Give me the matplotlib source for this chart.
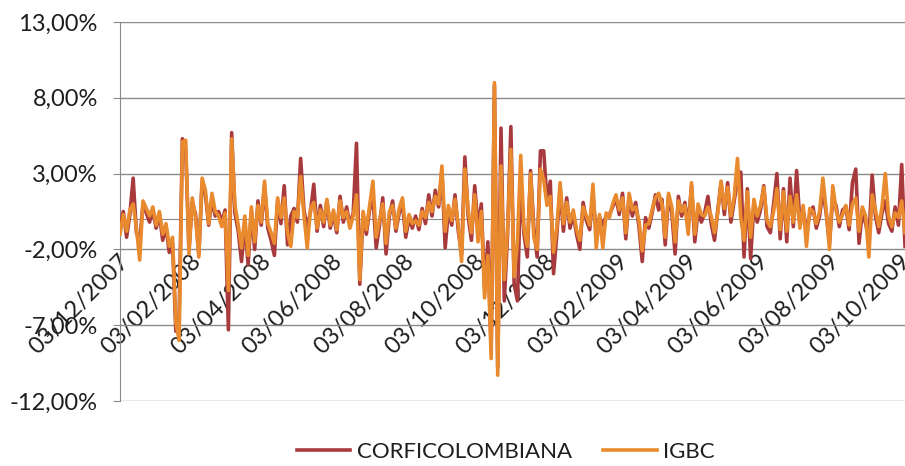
import numpy as np
import pandas as pd
import matplotlib
matplotlib.use("Agg")
import matplotlib.pyplot as plt
from matplotlib.transforms import ScaledTranslation

# daily returns (%), roughly every other trading day
corficolombiana = [
    -0.5, 0.5, -1.2, 0.3, 2.7, -0.9, -1.5, 1.0, 0.4, -0.2,
    0.6, -0.6, 0.3, -1.4, -0.5, -2.2, -1.6, -7.4, -6.5, 5.3,
    4.6, -2.0, 1.1, 0.3, -2.3, 2.4, 1.6, -0.4, 1.3, 0.2,
    0.5, -0.2, 0.6, -7.3, 5.7, 0.4, -0.8, -2.8, -0.3, -3.0,
    0.5, -2.0, 1.2, -0.4, 2.2, -0.6, -1.4, -2.4, 1.2, -0.3,
    2.2, -1.7, 0.2, 0.7, -0.2, 4.0, 0.6, -0.6, 0.5, 2.3,
    -0.8, 0.9, -0.5, 1.2, -0.6, 0.3, -0.9, 1.5, -0.2, 0.8,
    -0.4, 0.4, 5.0, -4.3, 0.3, -1.0, 0.6, 1.5, -1.9, -0.4,
    1.4, -2.3, 0.2, 1.2, -0.8, 0.4, 1.0, -1.2, 0.1, -0.6,
    0.2, -0.7, 0.7, -0.3, 1.6, 0.2, 1.9, 0.8, 3.2, -1.9,
    0.6, -0.4, 1.6, -0.8, -2.3, 4.1, 0.2, -1.4, 2.2, -0.6,
    1.0, -4.6, -1.5, -8.6, 8.8, -9.8, 6.0, -5.4, -1.0, 6.1,
    -4.3, -5.4, 2.6, -1.0, -2.5, 3.2, -0.6, -2.5, 4.5, 4.5,
    1.2, 2.5, -3.6, -1.0, 2.0, -0.8, 1.4, -0.6, 0.3, -1.0,
    -2.0, 1.1, -0.1, -0.7, 1.6, -1.0, 0.1, -0.4, 0.2, 0.3,
    0.8, 1.4, 0.3, 1.7, -1.3, 1.5, 0.2, 1.1, -0.5, -2.8,
    0.1, -0.6, 0.4, 1.6, 0.6, 1.3, -1.7, 1.5, 0.4, -2.3,
    1.5, 0.2, 1.1, -0.5, 2.2, -1.5, 0.6, -0.2, 0.4, 1.5,
    -0.3, -1.4, 0.6, 2.4, 0.3, 2.4, -0.2, 1.2, 2.6, 3.1,
    -2.5, 2.0, -2.6, 1.0, -0.2, 0.6, 2.2, -0.5, -0.9, 1.0,
    3.0, -1.3, 2.0, -1.5, 2.7, -0.5, 3.2, -0.2, 0.6, -0.8,
    0.3, 0.8, -0.6, 0.2, 1.9, 0.4, -1.6, 1.4, 0.9, -0.5,
    0.6, 0.8, -0.7, 2.4, 3.3, -1.6, 0.5, -0.3, -1.3, 2.9,
    0.2, -0.9, 0.4, 1.2, -0.3, -0.8, 0.8, -0.4, 3.6, -1.8,
]

igbc = [
    -1.0, 0.3, -0.8, 0.6, 1.0, -0.6, -2.7, 1.2, 0.7, 0.2,
    0.8, -0.4, 0.5, -1.0, -0.3, -1.8, -1.2, -6.8, -8.0, 5.1,
    5.2, -2.3, 1.4, 0.1, -2.5, 2.7, 1.9, -0.3, 1.7, 0.5,
    0.2, -0.5, 0.4, -4.7, 5.3, 0.9, -0.4, -1.9, 0.2, -2.4,
    0.8, -1.5, 0.9, -0.2, 2.5, -0.3, -0.9, -1.6, 1.4, 0.1,
    1.4, -0.9, -1.8, 0.5, 0.1, 2.8, 0.3, -1.9, 0.7, 1.1,
    -0.6, 0.6, -0.2, 1.3, -0.4, 0.6, -0.7, 1.2, 0.1, 0.5,
    -0.6, 0.2, 1.6, -4.0, 0.5, -0.7, 0.9, 2.5, -1.2, -0.1,
    1.0, -1.6, 0.5, 0.9, -0.6, 0.7, 1.4, -0.8, 0.3, -0.3,
    -0.1, -0.4, 0.5, 0.1, 1.1, 0.5, 1.5, 1.0, 3.5, -0.8,
    0.9, -0.1, 1.3, -0.4, -2.8, 3.3, 0.6, -0.9, 1.6, -1.5,
    0.5, -5.2, -2.4, -9.2, 9.0, -10.3, 3.5, -4.0, -0.6, 4.6,
    -3.8, -1.5, 4.2, -0.6, -1.8, 3.0, -1.2, -2.0, 3.3, 2.6,
    0.9, 1.5, -2.2, -0.5, 2.4, -0.3, 1.1, -0.2, 0.6, -0.7,
    -1.4, 0.8, 0.2, -0.4, 2.3, -1.9, 0.3, -1.9, 0.4, 0.1,
    1.0, 1.6, 0.6, 1.4, -0.9, 1.7, 0.6, 0.8, -0.1, -2.1,
    -0.4, -0.3, 0.6, 1.4, 1.7, 1.0, -1.2, 1.7, 0.8, -1.5,
    1.2, 0.5, 0.9, -1.0, 2.4, -1.0, 1.0, 0.3, 0.2, 0.8,
    0.2, -0.9, 0.4, 2.5, 0.7, 2.1, 0.2, 1.5, 4.0, 0.1,
    -1.4, 1.8, -1.2, 1.3, 0.2, 0.9, 2.1, -0.1, -0.5, 0.5,
    2.0, -0.7, 1.8, -0.8, 1.5, -0.2, 1.6, -0.6, 0.9, -1.8,
    0.7, 0.5, -0.3, 0.5, 2.7, 0.6, -2.0, 2.2, 0.6, -0.2,
    0.3, 0.9, -0.4, 1.0, 1.4, -0.8, 0.8, 0.2, -2.5, 1.6,
    0.6, -0.5, 0.8, 3.0, 0.2, -0.5, 0.4, 0.1, 1.2, -0.9,
]

start_date = "2007-12-03"
end_date = "2009-10-06"
tick_dates = pd.date_range("2007-12-03", "2009-10-03", freq=pd.DateOffset(months=2))
tick_labels = [d.strftime("%d/%m/%Y") for d in tick_dates]
y_ticks = [-12, -7, -2, 3, 8, 13]

red = "#A83A3E"
orange = "#E98A2F"
grey = "#8A8A8A"
text_col = "#1E1E1E"

plt.rcParams["font.family"] = ["Lato", "DejaVu Sans"]

fig = plt.figure(figsize=(9.05, 4.66), dpi=100)
ax = fig.add_axes([120 / 905, 1 - 401 / 466, 785 / 905, 379 / 466])

x_corfi = pd.date_range(start_date, end_date, periods=len(corficolombiana))
x_igbc = pd.date_range(start_date, end_date, periods=len(igbc))
ax.plot(x_corfi, corficolombiana, color=red, lw=2.6, label="CORFICOLOMBIANA", zorder=3)
ax.plot(x_igbc, igbc, color=orange, lw=2.6, label="IGBC", zorder=4)

ax.set_xlim(pd.Timestamp(start_date), pd.Timestamp(end_date))
ax.set_ylim(-12, 13)
ax.set_yticks(y_ticks)
ax.set_yticklabels([f"{v:.2f}".replace(".", ",") + "%" for v in y_ticks])
ax.yaxis.grid(True, color=grey, lw=1)
ax.set_axisbelow(True)

for side in ["top", "right"]:
    ax.spines[side].set_visible(False)
ax.spines["left"].set_color(grey)
ax.spines["bottom"].set_color(grey)
ax.spines["bottom"].set_position(("data", 0))
ax.spines["bottom"].set_zorder(2)

ax.tick_params(axis="y", length=5, color=grey, pad=11, labelsize=17, labelcolor=text_col)
ax.set_xticks(tick_dates)
ax.set_xticklabels(tick_labels, rotation=45, ha="right", va="center",
                   rotation_mode="anchor")
ax.tick_params(axis="x", length=0, pad=28, labelsize=17, labelcolor=text_col)
offset = ScaledTranslation(4 / 72, 0, fig.dpi_scale_trans)
for lbl in ax.get_xticklabels():
    lbl.set_transform(lbl.get_transform() + offset)

fig.legend(loc="center", bbox_to_anchor=(0.559, 0.03), ncol=2, frameon=False,
           fontsize=16, handlelength=2.4, handletextpad=0.3, columnspacing=1.4,
           labelcolor=text_col)

fig.savefig("out.png", dpi=100)
